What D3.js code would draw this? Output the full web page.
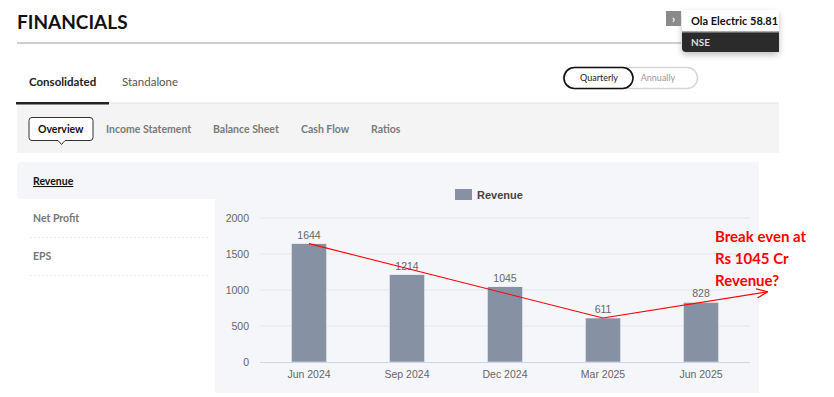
<!DOCTYPE html>
<html>
<head>
<meta charset="utf-8">
<script src="https://cdn.jsdelivr.net/npm/d3@7"></script>
<style>
  html, body { margin: 0; padding: 0; background: #fff; }
  svg { display: block; font-family: Lato, "Open Sans", sans-serif; }
</style>
</head>
<body>
<div id="chart"></div>
<script>
// chart values
const quarters = ["Jun 2024", "Sep 2024", "Dec 2024", "Mar 2025", "Jun 2025"];
const revenue = [1644, 1214, 1045, 611, 828];
const yTicks = [0, 500, 1000, 1500, 2000];
const seriesName = "Revenue";

// hand drawn trend annotation
const trendFrom = ["Jun 2024", "Mar 2025"];
const trendTo = ["Mar 2025", "Jun 2025"];
const noteLines = ["Break even at", "Rs 1045 Cr", "Revenue?"];

// page texts
const pageTitle = "FINANCIALS";
const quoteName = "Ola Electric";
const quotePrice = "58.81";
const quoteExchange = "NSE";
const viewTabs = ["Consolidated", "Standalone"];
const periodTabs = ["Quarterly", "Annually"];
const subTabs = ["Overview", "Income Statement", "Balance Sheet", "Cash Flow", "Ratios"];
const sideMenu = ["Revenue", "Net Profit", "EPS"];

const width = 834;
const height = 397;
const hcFont = "'Liberation Sans', Arial, sans-serif";

const svg = d3.select("#chart")
  .append("svg")
  .attr("width", width)
  .attr("height", height);

const defs = svg.append("defs");
const shadow = defs.append("filter").attr("id", "shadow")
  .attr("x", "-20%").attr("y", "-20%").attr("width", "140%").attr("height", "180%");
shadow.append("feDropShadow")
  .attr("dx", 0).attr("dy", 3).attr("stdDeviation", 3)
  .attr("flood-color", "#000").attr("flood-opacity", 0.25);

defs.append("marker")
  .attr("id", "arrow")
  .attr("viewBox", "0 0 10 10")
  .attr("refX", 10).attr("refY", 5)
  .attr("markerWidth", 11).attr("markerHeight", 11)
  .attr("markerUnits", "userSpaceOnUse")
  .attr("orient", "auto")
  .append("path")
  .attr("d", "M0,0.8 L10,5 L0,9.2")
  .attr("fill", "none")
  .attr("stroke", "#ff0000")
  .attr("stroke-width", 1.1);

// ---------- header ----------
svg.append("text")
  .attr("x", 17).attr("y", 29)
  .attr("font-size", 19)
  .attr("font-weight", 700)
  .attr("fill", "#111")
  .text(pageTitle);

svg.append("rect")
  .attr("x", 17).attr("y", 42)
  .attr("width", 664).attr("height", 2)
  .attr("fill", "#cfcfcf");

// quote widget, top right
svg.append("rect")
  .attr("x", 682).attr("y", 10)
  .attr("width", 97).attr("height", 42)
  .attr("rx", 4)
  .attr("fill", "#2b2b2b")
  .attr("filter", "url(#shadow)");
svg.append("rect")
  .attr("x", 690).attr("y", 32)
  .attr("width", 89).attr("height", 20)
  .attr("fill", "#2b2b2b");
svg.append("rect")
  .attr("x", 682).attr("y", 10)
  .attr("width", 97).attr("height", 22)
  .attr("fill", "#fff");
svg.append("rect")
  .attr("x", 682).attr("y", 31)
  .attr("width", 97).attr("height", 1.5)
  .attr("fill", "#aaa");
svg.append("rect")
  .attr("x", 666).attr("y", 11)
  .attr("width", 15).attr("height", 15)
  .attr("fill", "#8a8a8a");
svg.append("text")
  .attr("x", 673.5).attr("y", 22.5)
  .attr("text-anchor", "middle")
  .attr("font-size", 11).attr("font-weight", 700)
  .attr("fill", "#fff")
  .text("›");
svg.append("text")
  .attr("x", 691).attr("y", 25)
  .attr("font-size", 11).attr("font-weight", 700)
  .attr("fill", "#111")
  .text(quoteName);
svg.append("text")
  .attr("x", 750).attr("y", 25)
  .attr("font-size", 11).attr("font-weight", 700)
  .attr("fill", "#111")
  .text(quotePrice);
svg.append("text")
  .attr("x", 691).attr("y", 46)
  .attr("font-size", 10).attr("font-weight", 700)
  .attr("fill", "#ddd")
  .text(quoteExchange);

// ---------- consolidated / standalone ----------
svg.append("rect")
  .attr("x", 17).attr("y", 103)
  .attr("width", 762).attr("height", 50)
  .attr("fill", "#f4f4f4");
svg.append("rect")
  .attr("x", 17).attr("y", 102.5)
  .attr("width", 762).attr("height", 1)
  .attr("fill", "#e2e2e2");
svg.append("rect")
  .attr("x", 16).attr("y", 102)
  .attr("width", 93).attr("height", 2.5)
  .attr("fill", "#222");

const viewX = [29, 122];
svg.selectAll(".view-tab")
  .data(viewTabs)
  .enter()
  .append("text")
  .attr("class", "view-tab")
  .attr("x", (d, i) => viewX[i])
  .attr("y", 86)
  .attr("font-size", 11.5)
  .attr("font-weight", (d, i) => i === 0 ? 700 : 400)
  .attr("fill", (d, i) => i === 0 ? "#222" : "#555")
  .text(d => d);

// quarterly / annually toggle
svg.append("rect")
  .attr("x", 563.5).attr("y", 67.5)
  .attr("width", 134).attr("height", 21)
  .attr("rx", 10.5)
  .attr("fill", "#fff")
  .attr("stroke", "#d6d6d6")
  .attr("stroke-width", 1.5);
svg.append("rect")
  .attr("x", 564).attr("y", 67.5)
  .attr("width", 69).attr("height", 21)
  .attr("rx", 10.5)
  .attr("fill", "#fff")
  .attr("stroke", "#111")
  .attr("stroke-width", 1.6);
const periodX = [599, 658];
svg.selectAll(".period-tab")
  .data(periodTabs)
  .enter()
  .append("text")
  .attr("class", "period-tab")
  .attr("x", (d, i) => periodX[i])
  .attr("y", 81)
  .attr("text-anchor", "middle")
  .attr("font-size", 9)
  .attr("fill", (d, i) => i === 0 ? "#222" : "#999")
  .text(d => d);

// ---------- sub tabs ----------
svg.append("path")
  .attr("d", "M32,117.5 H90 a3,3 0 0 1 3,3 V137.5 a3,3 0 0 1 -3,3 H65 L61.5,144.5 L58,140.5 H32 a3,3 0 0 1 -3,-3 V120.5 a3,3 0 0 1 3,-3 Z")
  .attr("fill", "#fff")
  .attr("stroke", "#333")
  .attr("stroke-width", 1);

const subX = [38, 106, 213, 301, 371];
svg.selectAll(".sub-tab")
  .data(subTabs)
  .enter()
  .append("text")
  .attr("class", "sub-tab")
  .attr("x", (d, i) => subX[i])
  .attr("y", 133)
  .attr("font-size", 10.5)
  .attr("font-weight", 700)
  .attr("fill", (d, i) => i === 0 ? "#111" : "#7a7a7a")
  .text(d => d);

// ---------- chart panel ----------
svg.append("rect")
  .attr("x", 17).attr("y", 162)
  .attr("width", 742).attr("height", 37)
  .attr("rx", 4)
  .attr("fill", "#f5f6fa");
svg.append("rect")
  .attr("x", 215).attr("y", 162)
  .attr("width", 544).attr("height", 231)
  .attr("fill", "#f5f6fa");

const menuY = [185, 222, 260];
svg.selectAll(".side-item")
  .data(sideMenu)
  .enter()
  .append("text")
  .attr("class", "side-item")
  .attr("x", 33)
  .attr("y", (d, i) => menuY[i])
  .attr("font-size", 10.5)
  .attr("font-weight", 700)
  .attr("fill", (d, i) => i === 0 ? "#111" : "#777")
  .attr("text-decoration", (d, i) => i === 0 ? "underline" : null)
  .text(d => d);
svg.selectAll(".side-sep")
  .data(sideMenu.slice(1))
  .enter()
  .append("line")
  .attr("class", "side-sep")
  .attr("x1", 30).attr("x2", 210)
  .attr("y1", (d, i) => menuY[i + 1] + 15.5)
  .attr("y2", (d, i) => menuY[i + 1] + 15.5)
  .attr("stroke", "#ececec")
  .attr("stroke-dasharray", "2,2");

// scales
const x = d3.scaleBand()
  .domain(quarters)
  .range([260, 750])
  .paddingInner(0.64)
  .paddingOuter(0.32);

const y = d3.scaleLinear()
  .domain([0, 2000])
  .range([362, 218]);

const cx = q => x(q) + x.bandwidth() / 2;

// grid lines
svg.append("g")
  .selectAll("line")
  .data(yTicks.slice(1))
  .enter()
  .append("line")
  .attr("x1", 260).attr("x2", 750)
  .attr("y1", d => y(d)).attr("y2", d => y(d))
  .attr("stroke", "#e6e6e6")
  .attr("stroke-width", 1);

// y axis labels
const yAxis = svg.append("g")
  .attr("transform", "translate(249,0)")
  .call(d3.axisLeft(y).tickValues(yTicks).tickFormat(d3.format("d")).tickSize(0).tickPadding(0));
yAxis.select(".domain").remove();
yAxis.selectAll("text")
  .style("font-family", hcFont)
  .style("font-size", "10.5px")
  .attr("fill", "#666");

// bars
svg.append("g")
  .selectAll("rect")
  .data(revenue)
  .enter()
  .append("rect")
  .attr("x", (d, i) => x(quarters[i]))
  .attr("y", d => y(d))
  .attr("width", x.bandwidth())
  .attr("height", d => y(0) - y(d))
  .attr("fill", "#8692a3")
  .attr("stroke", "#fff")
  .attr("stroke-width", 0.5);

// x axis
const xAxis = svg.append("g")
  .attr("transform", "translate(0,362)")
  .call(d3.axisBottom(x).tickSize(0).tickPadding(9));
xAxis.select(".domain")
  .attr("d", "M260,0.5H750")
  .attr("stroke", "#ccd6eb");
xAxis.selectAll("text")
  .style("font-family", hcFont)
  .style("font-size", "10.5px")
  .attr("fill", "#666");

// value labels
svg.append("g")
  .selectAll("text")
  .data(revenue)
  .enter()
  .append("text")
  .attr("x", (d, i) => cx(quarters[i]))
  .attr("y", d => y(d) - 5)
  .attr("text-anchor", "middle")
  .style("font-family", hcFont)
  .style("font-size", "10.5px")
  .attr("fill", "#666")
  .text(d => d);

// legend
svg.append("rect")
  .attr("x", 455).attr("y", 189)
  .attr("width", 17).attr("height", 11)
  .attr("fill", "#8692a3");
svg.append("text")
  .attr("x", 477).attr("y", 199)
  .style("font-family", hcFont)
  .style("font-size", "11px")
  .attr("font-weight", 700)
  .attr("fill", "#444")
  .text(seriesName);

// trend annotation
const valueOf = q => revenue[quarters.indexOf(q)];
svg.append("line")
  .attr("x1", cx(trendFrom[0])).attr("y1", y(valueOf(trendFrom[0])))
  .attr("x2", cx(trendFrom[1])).attr("y2", y(valueOf(trendFrom[1])))
  .attr("stroke", "#ff0000")
  .attr("stroke-width", 1.1);

// second leg runs through the last bar and past the plot
const reach = 1.68;
const x0 = cx(trendTo[0]), x1 = cx(trendTo[1]);
const v0 = valueOf(trendTo[0]), v1 = valueOf(trendTo[1]);
svg.append("line")
  .attr("x1", x0).attr("y1", y(v0))
  .attr("x2", x0 + (x1 - x0) * reach)
  .attr("y2", y(v0 + (v1 - v0) * reach))
  .attr("stroke", "#ff0000")
  .attr("stroke-width", 1.1)
  .attr("marker-end", "url(#arrow)");

svg.append("g")
  .selectAll("text")
  .data(noteLines)
  .enter()
  .append("text")
  .attr("x", 715)
  .attr("y", (d, i) => 242 + i * 22)
  .attr("font-size", 15)
  .attr("font-weight", 700)
  .attr("fill", "#ff0000")
  .text(d => d);
</script>
</body>
</html>
